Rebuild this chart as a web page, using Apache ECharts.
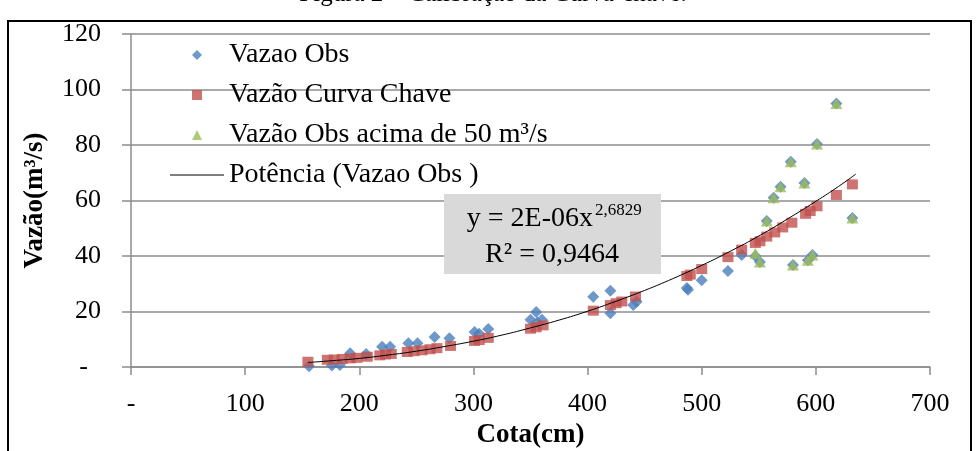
<!DOCTYPE html>
<html>
<head>
<meta charset="utf-8">
<script src="https://cdn.jsdelivr.net/npm/echarts@6/dist/echarts.min.js"></script>
<style>
html, body { margin: 0; padding: 0; background: #fff; }
#chart { width: 977px; height: 451px; }
</style>
</head>
<body>
<div id="chart"></div>
<script>
// Vazao Obs (all observed points)
const obsCota  = [156, 176, 183, 192, 206, 220, 227, 243, 251, 266, 279, 301, 305, 313, 350, 355, 356, 360,
                  405, 420, 420, 440, 443, 487, 488, 500, 523, 535, 547, 551, 557, 563, 569, 578, 580, 590,
                  593, 597, 601, 618, 632];
const obsVazao = [0.3, 0.5, 0.7, 5.0, 4.7, 7.3, 7.3, 8.6, 8.6, 10.8, 10.4, 12.6, 12.0, 13.7, 17.0, 19.8, 16.0, 17.0,
                  25.3, 27.5, 19.4, 22.3, 23.5, 28.5, 27.8, 31.3, 34.6, 40.4, 40.0, 37.8, 52.6, 61.0, 65.0, 74.0, 36.8, 66.3,
                  38.5, 40.4, 80.4, 95.0, 53.7];

// Vazão Curva Chave
const curvaCota  = [155, 172, 178, 185, 192, 198, 207, 218, 223, 228, 242, 248, 255, 262, 268, 280, 301, 305, 313,
                    350, 355, 361, 405, 420, 425, 430, 442, 487, 490, 500, 523, 535, 547, 551, 557, 564, 571, 579,
                    591, 595, 601, 618, 632];
const curvaVazao = [1.9, 2.6, 2.7, 2.9, 3.1, 3.3, 3.7, 4.2, 4.5, 4.7, 5.4, 5.7, 6.0, 6.4, 6.8, 7.6, 9.4, 9.7, 10.5,
                    13.8, 14.3, 15.0, 20.3, 22.3, 23.0, 23.6, 25.4, 32.8, 33.3, 35.3, 39.6, 42.3, 44.7, 45.3, 47.0, 48.5, 50.3, 52.0,
                    55.2, 56.2, 57.9, 62.0, 65.8];

// Vazão Obs acima de 50 m³/s
const acimaCota  = [547, 551, 557, 563, 569, 578, 580, 590, 593, 597, 601, 618, 632];
const acimaVazao = [41.0, 37.8, 52.6, 61.0, 65.0, 74.0, 36.8, 66.3, 38.5, 40.4, 80.4, 95.0, 53.7];

// Potência (Vazao Obs ) - trend line
const trendCota  = [155, 180, 200, 225, 250, 275, 300, 325, 350, 375, 400, 425, 450, 475, 500, 525, 550, 575, 600, 620, 635];
const trendVazao = [1.6, 2.4, 3.1, 4.3, 5.7, 7.4, 9.3, 11.5, 14.1, 16.9, 20.1, 23.7, 27.6, 31.9, 36.6, 41.7, 47.2, 53.3, 59.7, 65.1, 69.5];

const xTicks = [0, 100, 200, 300, 400, 500, 600, 700];
const yTicks = [0, 20, 40, 60, 80, 100, 120];

const serif = '"Liberation Serif", "Times New Roman", serif';
const pairs = (xs, ys) => xs.map((x, i) => [x, ys[i]]);

const chart = echarts.init(document.getElementById('chart'));

chart.setOption({
  animation: false,
  backgroundColor: '#fff',
  grid: { left: 131, right: 47, top: 34, bottom: 84, containLabel: false, outerBoundsMode: 'none' },
  legend: {
    orient: 'vertical',
    left: 165,
    top: 36,
    itemWidth: 54,
    itemHeight: 10,
    itemGap: 12,
    symbolKeepAspect: true,
    textStyle: { fontFamily: serif, fontSize: 28, color: '#000', lineHeight: 28 },
    data: [
      { name: 'Vazao Obs', icon: 'path://M5,0L10,5L5,10L0,5Z' },
      { name: 'Vazão Curva Chave', icon: 'path://M0,0L10,0L10,10L0,10Z' },
      { name: 'Vazão Obs acima de 50 m³/s', icon: 'path://M5,0L10,10L0,10Z' },
      { name: 'Potência (Vazao Obs )', icon: 'path://M0,0L54,0L54,1L0,1Z' }
    ]
  },
  xAxis: {
    type: 'value',
    min: xTicks[0],
    max: xTicks[xTicks.length - 1],
    interval: 100,
    name: 'Cota(cm)',
    nameLocation: 'middle',
    nameGap: 53,
    nameTextStyle: { fontFamily: serif, fontSize: 27, fontWeight: 'bold', color: '#000' },
    axisLine: { lineStyle: { color: '#8c8c8c', width: 1.5 } },
    axisTick: { show: true, length: 8, lineStyle: { color: '#8c8c8c', width: 1.5 } },
    axisLabel: {
      margin: 24,
      fontFamily: serif, fontSize: 26, color: '#000',
      formatter: v => v === 0 ? '-' : String(v)
    },
    splitLine: { show: false }
  },
  yAxis: {
    type: 'value',
    min: yTicks[0],
    max: yTicks[yTicks.length - 1],
    interval: 20,
    name: 'Vazão(m³/s)',
    nameLocation: 'middle',
    nameGap: 82,
    nameRotate: 90,
    nameTextStyle: { fontFamily: serif, fontSize: 27, fontWeight: 'bold', color: '#000' },
    axisLine: { show: true, lineStyle: { color: '#8c8c8c', width: 1.5 } },
    axisTick: { show: true, length: 9, lineStyle: { color: '#8c8c8c', width: 1.5 } },
    axisLabel: {
      margin: 30,
      fontFamily: serif, fontSize: 26, color: '#000',
      formatter: v => v === 0 ? '-  ' : String(v)
    },
    splitLine: { show: true, lineStyle: { color: '#8c8c8c', width: 1.5 } }
  },
  series: [
    {
      name: 'Vazao Obs',
      type: 'scatter',
      symbol: 'diamond',
      symbolSize: [12, 12],
      itemStyle: { color: '#4a7ebb' },
      data: pairs(obsCota, obsVazao)
    },
    {
      name: 'Vazão Curva Chave',
      type: 'scatter',
      symbol: 'rect',
      symbolSize: [11, 10],
      itemStyle: { color: '#c0504d' },
      data: pairs(curvaCota, curvaVazao)
    },
    {
      name: 'Vazão Obs acima de 50 m³/s',
      type: 'scatter',
      symbol: 'triangle',
      symbolSize: [12, 11],
      itemStyle: { color: '#9bbb59' },
      data: pairs(acimaCota, acimaVazao)
    },
    {
      name: 'Potência (Vazao Obs )',
      type: 'line',
      smooth: true,
      symbol: 'none',
      lineStyle: { color: '#000', width: 1 },
      itemStyle: { color: '#000' },
      data: pairs(trendCota, trendVazao)
    }
  ],
  graphic: [
    // figure caption, cut at the top edge
    {
      type: 'text', x: 493, y: -6, silent: true,
      style: { text: 'Figura 2 – Calibração da Curva-chave.', font: '25px ' + serif, fill: '#000',
               textAlign: 'center', textVerticalAlign: 'middle' }
    },
    // outer frame
    {
      type: 'rect', silent: true, z: -1,
      shape: { x: 8, y: 21, width: 963, height: 440 },
      style: { fill: 'none', stroke: '#000', lineWidth: 2 }
    },
    // equation box
    {
      type: 'rect', silent: true, z: 10,
      shape: { x: 444, y: 194, width: 217, height: 80 },
      style: { fill: '#d9d9d9' }
    },
    {
      type: 'text', x: 593, y: 219, z: 11, silent: true,
      style: { text: 'y = 2E-06x', font: '28px ' + serif, fill: '#000',
               textAlign: 'right', textVerticalAlign: 'middle' }
    },
    {
      type: 'text', x: 595, y: 211, z: 11, silent: true,
      style: { text: '2,6829', font: '17px ' + serif, fill: '#000',
               textAlign: 'left', textVerticalAlign: 'middle' }
    },
    {
      type: 'text', x: 552, y: 255, z: 11, silent: true,
      style: { text: 'R² = 0,9464', font: '28px ' + serif, fill: '#000',
               textAlign: 'center', textVerticalAlign: 'middle' }
    }
  ]
});
</script>
</body>
</html>
